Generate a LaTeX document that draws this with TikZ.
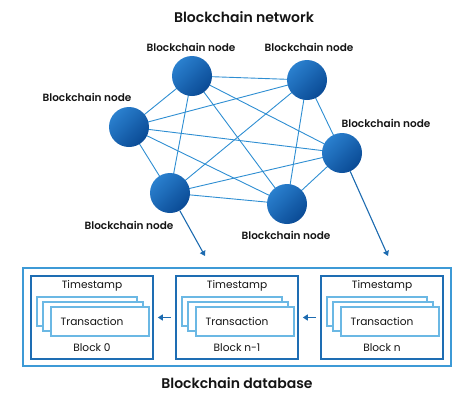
\documentclass[tikz,border=0pt]{standalone}
\usepackage{fontspec}
\setmainfont{Poppins}[BoldFont={Poppins SemiBold}]
\usetikzlibrary{arrows.meta,backgrounds}
\definecolor{ballL}{HTML}{2A80CE}
\definecolor{ballD}{HTML}{0A4A95}
\definecolor{edgeC}{HTML}{2E8ED2}
\definecolor{outerC}{HTML}{3D9AD6}
\definecolor{blockC}{HTML}{1E6DB3}
\definecolor{txC}{HTML}{6BB8E4}
\definecolor{arrC}{HTML}{1D6BB0}
\definecolor{txtC}{HTML}{141414}
\begin{document}
\begin{tikzpicture}[x=1pt,y=-1pt,
  ball/.style={circle,minimum size=40pt,inner sep=0pt,top color=ballL,bottom color=ballD,shading angle=45},
  lbl/.style={font=\fontsize{10.5}{12}\selectfont\bfseries,text=txtC,inner sep=0pt},
  title/.style={font=\fontsize{14}{16}\selectfont\bfseries,text=txtC,inner sep=0pt},
  link/.style={edgeC,line width=0.9pt},
  arr/.style={arrC,line width=1.1pt,-{Triangle[length=5pt,width=6pt]}},
  outerbox/.style={draw=outerC,line width=1.6pt,inner sep=0pt},
  blockbox/.style={draw=blockC,line width=1.6pt,minimum width=122pt,minimum height=83pt,inner sep=0pt},
  txbox/.style={draw=txC,fill=white,line width=1.1pt,minimum width=100pt,minimum height=29pt,inner sep=0pt},
  btxt/.style={font=\fontsize{10.6}{12}\selectfont,text=txtC,inner sep=0pt}]
\useasboundingbox (0,0) rectangle (474,402);

\node[title] (nettitle) at (244,17) {Blockchain network};

\node[ball] (A) at (192,76) {};
\node[ball] (B) at (307,80) {};
\node[ball] (C) at (129,127) {};
\node[ball] (D) at (342,153) {};
\node[ball] (E) at (170,193) {};
\node[ball] (F) at (287,204) {};

\node[lbl] (lA) at (191,47) {Blockchain node};
\node[lbl] (lB) at (309,47) {Blockchain node};
\node[lbl] (lC) at (87,97) {Blockchain node};
\node[lbl] (lD) at (386,123) {Blockchain node};
\node[lbl] (lE) at (129,225) {Blockchain node};
\node[lbl] (lF) at (286,235) {Blockchain node};

\begin{pgfonlayer}{background}
\foreach \p/\q in {A/B,A/C,A/D,A/E,A/F,B/C,B/D,B/E,B/F,C/D,C/E,C/F,D/E,D/F,E/F}
  \draw[link] (\p.center) -- (\q.center);
\end{pgfonlayer}

\coordinate (eEnd) at (205,256);
\coordinate (dEnd) at (388,256);
\draw[arr] (E) -- (eEnd);
\draw[arr] (D) -- (dEnd);

\node[outerbox,minimum width=428pt,minimum height=98pt] (db) at (237,317) {};

\foreach \n/\x/\lab in {b0/92/Block 0,b1/237/Block n-1,b2/382/Block n}{
  \node[blockbox] (\n) at (\x,317.5) {};
  \node[btxt] (\n ts) at (\x,286) {Timestamp};
  \node[txbox] (\n tx1) at ({\x-5},311.5) {};
  \node[txbox] (\n tx2) at ({\x+1},316.5) {};
  \node[txbox,minimum width=98pt] (\n tx3) at ({\x+8},321.5) {};
  \node[btxt] (\n tt) at (\x,322) {Transaction};
  \node[btxt] (\n bl) at (\x,348) {\lab};
}

\draw[arr,line width=1.3pt,shorten <=4pt,shorten >=4pt] (b2.west) -- (b1.east);
\draw[arr,line width=1.3pt,shorten <=4pt,shorten >=4pt] (b1.west) -- (b0.east);

\node[title] (dbtitle) at (237,383) {Blockchain database};
\end{tikzpicture}
\end{document}
